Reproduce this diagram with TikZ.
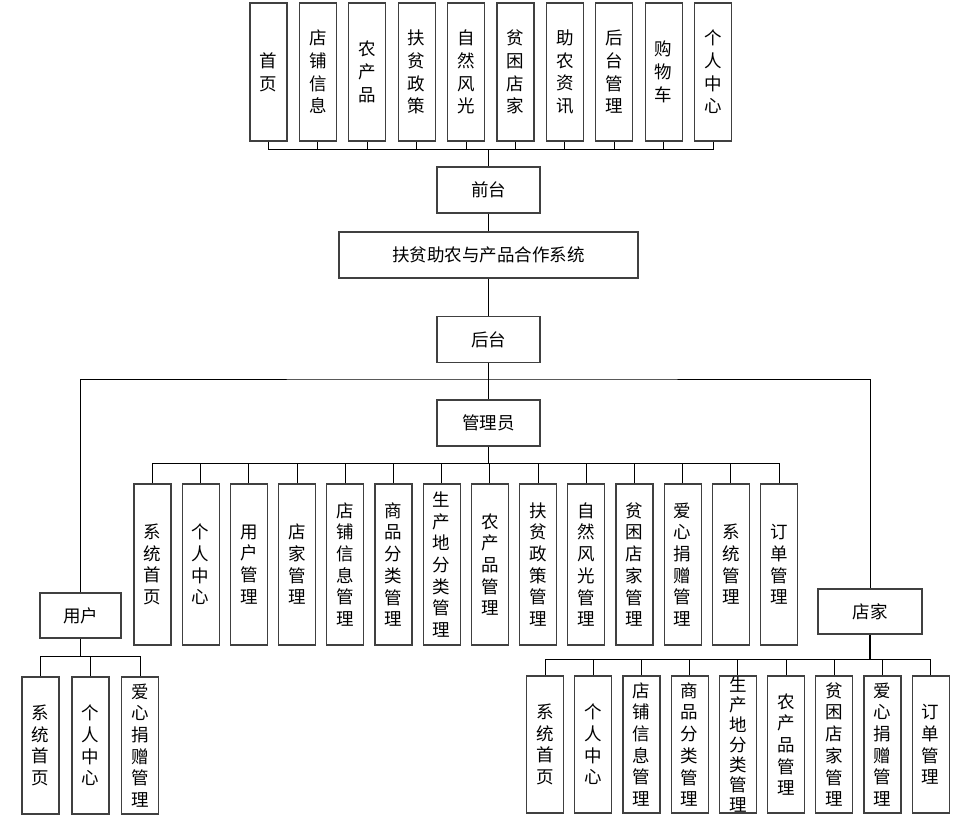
\documentclass[tikz,border=0pt]{standalone}
\usepackage{fontspec}
\setmainfont{Noto Sans CJK SC}
\usepackage{tikz}
\usetikzlibrary{positioning}

\begin{document}
\begin{tikzpicture}[x=1pt,y=-1pt,
  box/.style={draw=black!75,line width=1.2pt,inner sep=0pt,minimum height=46pt,font=\fontsize{17.5}{20}\selectfont},
  leaf/.style={draw=black!75,line width=1.2pt,inner sep=0pt,minimum width=37pt,align=center,font=\fontsize{17.5}{21.7}\selectfont},
  trunk/.style={line width=1.8pt},
  every path/.style={line width=1pt}]
  \useasboundingbox (0,0) rectangle (962,828);

  % front end pages
  \node[leaf,minimum height=138pt,font=\fontsize{17.5}{22.7}\selectfont] (t1) at (268.5,72) {首\\页};
  \node[leaf,minimum height=138pt,font=\fontsize{17.5}{22.7}\selectfont] (t2) at (317.9,72) {店\\铺\\信\\息};
  \node[leaf,minimum height=138pt,font=\fontsize{17.5}{22.7}\selectfont] (t3) at (367.3,72) {农\\产\\品};
  \node[leaf,minimum height=138pt,font=\fontsize{17.5}{22.7}\selectfont] (t4) at (416.7,72) {扶\\贫\\政\\策};
  \node[leaf,minimum height=138pt,font=\fontsize{17.5}{22.7}\selectfont] (t5) at (466.1,72) {自\\然\\风\\光};
  \node[leaf,minimum height=138pt,font=\fontsize{17.5}{22.7}\selectfont] (t6) at (515.5,72) {贫\\困\\店\\家};
  \node[leaf,minimum height=138pt,font=\fontsize{17.5}{22.7}\selectfont] (t7) at (564.9,72) {助\\农\\资\\讯};
  \node[leaf,minimum height=138pt,font=\fontsize{17.5}{22.7}\selectfont] (t8) at (614.3,72) {后\\台\\管\\理};
  \node[leaf,minimum height=138pt,font=\fontsize{17.5}{22.7}\selectfont] (t9) at (663.7,72) {购\\物\\车};
  \node[leaf,minimum height=138pt,font=\fontsize{17.5}{22.7}\selectfont] (t10) at (713.1,72) {个\\人\\中\\心};

  \node[box,minimum width=103pt] (qt) at (488.5,190) {前台};
  \node[box,minimum width=299pt] (sys) at (488.5,255) {扶贫助农与产品合作系统};
  \node[box,minimum width=103pt] (ht) at (488.5,339.5) {后台};
  \node[box,minimum width=103pt] (gly) at (488.5,423) {管理员};
  \node[box,minimum width=81pt,minimum height=45pt] (yh) at (80.5,615.5) {用户};
  \node[box,minimum width=104pt,minimum height=45pt] (dj) at (870,611.5) {店家};

  % admin
  \node[leaf,minimum height=161pt] (g1) at (152.5,564.5) {系\\统\\首\\页};
  \node[leaf,minimum height=161pt] (g2) at (200.7,564.5) {个\\人\\中\\心};
  \node[leaf,minimum height=161pt] (g3) at (248.9,564.5) {用\\户\\管\\理};
  \node[leaf,minimum height=161pt] (g4) at (297.1,564.5) {店\\家\\管\\理};
  \node[leaf,minimum height=161pt] (g5) at (345.3,564.5) {店\\铺\\信\\息\\管\\理};
  \node[leaf,minimum height=161pt] (g6) at (393.5,564.5) {商\\品\\分\\类\\管\\理};
  \node[leaf,minimum height=161pt] (g7) at (441.7,564.5) {生\\产\\地\\分\\类\\管\\理};
  \node[leaf,minimum height=161pt] (g8) at (489.9,564.5) {农\\产\\品\\管\\理};
  \node[leaf,minimum height=161pt] (g9) at (538.1,564.5) {扶\\贫\\政\\策\\管\\理};
  \node[leaf,minimum height=161pt] (g10) at (586.3,564.5) {自\\然\\风\\光\\管\\理};
  \node[leaf,minimum height=161pt] (g11) at (634.5,564.5) {贫\\困\\店\\家\\管\\理};
  \node[leaf,minimum height=161pt] (g12) at (682.7,564.5) {爱\\心\\捐\\赠\\管\\理};
  \node[leaf,minimum height=161pt] (g13) at (730.9,564.5) {系\\统\\管\\理};
  \node[leaf,minimum height=161pt] (g14) at (779.1,564.5) {订\\单\\管\\理};

  % user
  \node[leaf,minimum height=137pt] (u1) at (40.5,745.5) {系\\统\\首\\页};
  \node[leaf,minimum height=137pt] (u2) at (90.5,745.5) {个\\人\\中\\心};
  \node[leaf,minimum height=137pt] (u3) at (140,745.5) {爱\\心\\捐\\赠\\管\\理};

  % store
  \node[leaf,minimum height=137pt] (d1) at (545,744.5) {系\\统\\首\\页};
  \node[leaf,minimum height=137pt] (d2) at (593.2,744.5) {个\\人\\中\\心};
  \node[leaf,minimum height=137pt] (d3) at (641.4,744.5) {店\\铺\\信\\息\\管\\理};
  \node[leaf,minimum height=137pt] (d4) at (689.6,744.5) {商\\品\\分\\类\\管\\理};
  \node[leaf,minimum height=137pt,font=\fontsize{17.5}{20}\selectfont] (d5) at (737.8,744.5) {生\\产\\地\\分\\类\\管\\理};
  \node[leaf,minimum height=137pt] (d6) at (786,744.5) {农\\产\\品\\管\\理};
  \node[leaf,minimum height=137pt] (d7) at (834.2,744.5) {贫\\困\\店\\家\\管\\理};
  \node[leaf,minimum height=137pt] (d8) at (882.4,744.5) {爱\\心\\捐\\赠\\管\\理};
  \node[leaf,minimum height=137pt] (d9) at (930.6,744.5) {订\\单\\管\\理};

  \coordinate (tbus) at (488.5,149);
  \coordinate (rbus) at (488.5,379);
  \coordinate (gbus) at (488.5,463);
  \coordinate (ubus) at (80.5,656);
  \coordinate (dbus) at (870,659);

  \draw (t1.south)|-(tbus); \draw (t2.south)|-(tbus); \draw (t3.south)|-(tbus);
  \draw (t4.south)|-(tbus); \draw (t5.south)|-(tbus); \draw (t6.south)|-(tbus);
  \draw (t7.south)|-(tbus); \draw (t8.south)|-(tbus); \draw (t9.south)|-(tbus);
  \draw (t10.south)|-(tbus);
  \draw[trunk](tbus)--(qt.north);
  \draw(qt)--(sys);
  \draw(sys)--(ht);
  \draw[trunk](ht.south)--(rbus);
  \draw(rbus)--(gly.north);
  \draw(yh.north)|-(rbus)-|(dj.north);

  \draw[trunk](gly.south)--(gbus);
  \draw (g1.north)|-(gbus); \draw (g2.north)|-(gbus); \draw (g3.north)|-(gbus);
  \draw (g4.north)|-(gbus); \draw (g5.north)|-(gbus); \draw (g6.north)|-(gbus);
  \draw (g7.north)|-(gbus); \draw (g8.north)|-(gbus); \draw (g9.north)|-(gbus);
  \draw (g10.north)|-(gbus); \draw (g11.north)|-(gbus); \draw (g12.north)|-(gbus);
  \draw (g13.north)|-(gbus); \draw (g14.north)|-(gbus);

  \draw[trunk](yh.south)--(ubus);
  \draw (u1.north)|-(ubus); \draw (u2.north)|-(ubus); \draw (u3.north)|-(ubus);

  \draw[trunk](dj.south)--(dbus);
  \draw (d1.north)|-(dbus); \draw (d2.north)|-(dbus); \draw (d3.north)|-(dbus);
  \draw (d4.north)|-(dbus); \draw (d5.north)|-(dbus); \draw (d6.north)|-(dbus);
  \draw (d7.north)|-(dbus); \draw (d8.north)|-(dbus); \draw (d9.north)|-(dbus);
\end{tikzpicture}
\end{document}
